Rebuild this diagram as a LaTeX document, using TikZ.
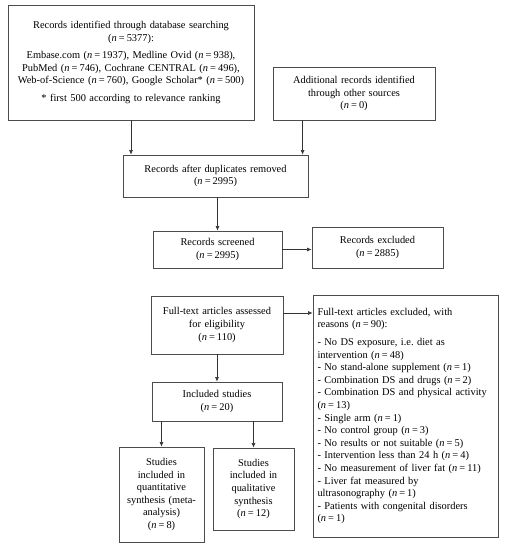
\documentclass[tikz,border=0pt]{standalone}
\usepackage{fontspec}
\setmainfont{Liberation Serif}
\usetikzlibrary{arrows.meta,calc}
\newcommand{\nv}[1]{(\textit{n}\hspace{0.2em}=\hspace{0.2em}#1)}
\begin{document}
\begin{tikzpicture}[x=1pt,y=-1pt,
  box/.style={draw=black!70, line width=0.8pt, inner sep=0pt, align=center,
    font=\fontsize{10.4}{12.6}\selectfont},
  arr/.style={draw=black!80, line width=0.6pt, -{Latex[length=4.5pt,width=4pt]}}]
\useasboundingbox (0,0) rectangle (505,550);
\node[box, minimum width=246pt, minimum height=115pt, text width=242pt] (b1) at (131,62.5)
  {Records identified through database searching\\\nv{5377}:\\[5pt]
   Embase.com \nv{1937}, Medline Ovid \nv{938},\\
   PubMed \nv{746}, Cochrane CENTRAL \nv{496},\\
   Web-of-Science \nv{760}, Google Scholar* \nv{500}\\[5pt]
   * first 500 according to relevance ranking};
\node[box, minimum width=162pt, minimum height=53pt, text width=156pt] (b2) at (354,93.5)
  {Additional records identified\\through other sources\\\nv{0}};
\node[box, minimum width=185pt, minimum height=42pt, text width=180pt] (b3) at (215.5,176)
  {Records after duplicates removed\\\nv{2995}};
\node[box, minimum width=129pt, minimum height=37pt, text width=124pt] (b4) at (217.5,249.5)
  {Records screened\\\nv{2995}};
\node[box, minimum width=131pt, minimum height=41pt, text width=126pt] (b5) at (377.5,247.5)
  {Records excluded\\\nv{2885}};
\node[box, minimum width=132pt, minimum height=58pt, text width=126pt] (b6) at (217,325)
  {Full-text articles assessed\\for eligibility\\\nv{110}};
\node[box, minimum width=185pt, minimum height=242pt, text width=176pt, align=left] (b7) at (405.5,416)
  {Full-text articles excluded, with\\reasons \nv{90}:\\[5pt]
   - No DS exposure, i.e.\ diet as\\intervention \nv{48}\\
   - No stand-alone supplement \nv{1}\\
   - Combination DS and drugs \nv{2}\\
   - Combination DS and physical activity\\\nv{13}\\
   - Single arm \nv{1}\\
   - No control group \nv{3}\\
   - No results or not suitable \nv{5}\\
   - Intervention less than 24 h \nv{4}\\
   - No measurement of liver fat \nv{11}\\
   - Liver fat measured by\\ultrasonography \nv{1}\\
   - Patients with congenital disorders\\\nv{1}};
\node[box, minimum width=130pt, minimum height=39pt, text width=124pt] (b8) at (217,401.5)
  {Included studies\\\nv{20}};
\node[box, minimum width=85pt, minimum height=95pt, text width=82pt] (b9) at (161.5,494.5)
  {Studies\\included in\\quantitative\\synthesis (meta-\\analysis)\\\nv{8}};
\node[box, minimum width=81pt, minimum height=82pt, text width=78pt] (b10) at (253.5,489)
  {Studies\\included in\\qualitative\\synthesis\\\nv{12}};
\coordinate (c2) at ($(b2.south west)+(30,0)$);
\draw[arr] (b1.south) -- (b1.south |- b3.north);
\draw[arr] (c2) -- (c2 |- b3.north);
\draw[arr] (b4.north |- b3.south) -- (b4.north);
\draw[arr] (b4.east) -- (b4.east -| b5.west);
\draw[arr] ([yshift=12pt]b6.east) -- ([yshift=12pt]b6.east -| b7.west);
\draw[arr] (b6.south) -- (b8.north);
\draw[arr] (b9.north |- b8.south) -- (b9.north);
\draw[arr] (b10.north |- b8.south) -- (b10.north);
\end{tikzpicture}
\end{document}
